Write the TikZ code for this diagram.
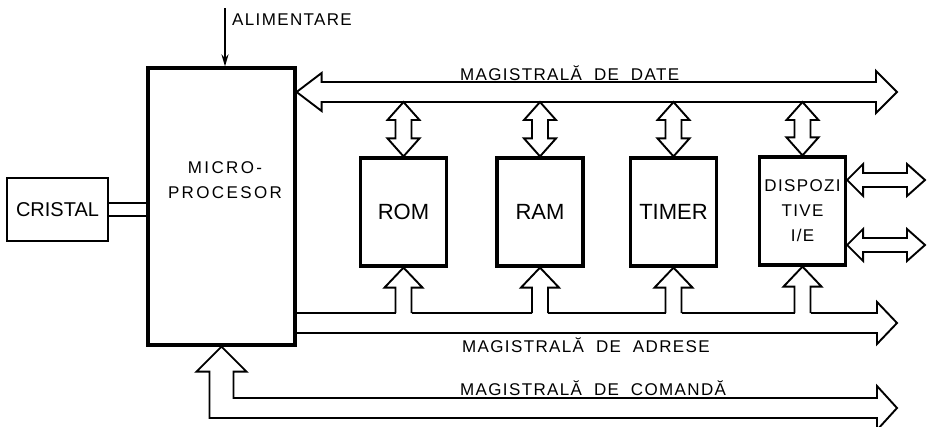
\documentclass[tikz,border=0pt]{standalone}
\usepackage{fontspec}
\setmainfont{Liberation Sans}
\newfontfamily\lblfont[LetterSpace=8]{Liberation Sans}
\newfontfamily\widefont[LetterSpace=14]{Liberation Sans}
\usetikzlibrary{calc,arrows.meta}
\def\vdarrow(#1)(#2){\filldraw[bus,fill=white] (#1) -- ++(16,18) -- ++(-8,0) -- ($(#2)+(8,-18)$) -- ++(8,0) -- (#2) -- ++(-16,-18) -- ++(8,0) -- ($(#1)+(-8,18)$) -- ++(-8,0) -- cycle;}
\def\uparr(#1)(#2){\fill[white] ($(#2)+(-8,1.5)$) rectangle ($(#1)+(8,20)$); \draw[bus] ($(#2)+(-8,0)$) -- ($(#1)+(-8,20)$) -- ++(-11,0) -- (#1) -- ++(19,20) -- ++(-11,0) -- ($(#2)+(8,0)$);}
\def\hdarrow(#1)(#2){\draw[bus] (#1) -- ++(16,-16) -- ++(0,9) -- ($(#2)+(-18,-7)$) -- ++(0,-9) -- (#2) -- ++(-18,16) -- ++(0,-9) -- ($(#1)+(16,7)$) -- ++(0,9) -- cycle;}

\begin{document}
\begin{tikzpicture}[x=1pt,y=-1pt,
	box/.style={draw,line width=3.2pt,inner sep=0pt},
	unit/.style={box,minimum width=86pt,minimum height=108pt,font=\fontsize{22}{22}\selectfont},
	bus/.style={line width=1.9pt,line join=miter},
	lbl/.style={font=\lblfont\fontsize{17}{17}\selectfont,inner sep=0pt}]
				\useasboundingbox (0,0) rectangle (928,426);
				
				% microprocessor and crystal
				\node[box, minimum width=147pt, minimum height=277pt] (mp) at (221.5,206.5) {};
				\node[lbl, align=center, font=\widefont\fontsize{17}{25}\selectfont] (mptext) at (225,180) {MICRO-\\PROCESOR};
				\node[box, line width=2.6pt, minimum width=101pt, minimum height=63pt, font=\fontsize{20}{20}\selectfont] (cristal) at (57.5,209.5) {CRISTAL};
				\coordinate (xa) at ([yshift=6.5pt]cristal.east);
				\coordinate (xb) at ([yshift=-6.5pt]cristal.east);
				\draw[bus] (xa) -- (xa -| mp.west);
				\draw[bus] (xb) -- (xb -| mp.west);
				
				\coordinate (alim) at (225,8);
				\draw[line width=1.9pt,-{Stealth[length=12pt,width=7pt]}] (alim) -- (alim |- mp.north);
				\node[lbl, anchor=base west] (alimtxt) at (232,25) {ALIMENTARE};
				
				% units
				\node[unit] (rom) at (403.5,212) {ROM};
				\node[unit] (ram) at (540,212) {RAM};
				\node[unit] (timer) at (673.5,212) {TIMER};
				\node[unit, align=center, font=\lblfont\fontsize{17}{25}\selectfont] (io) at (802.5,211) {DISPOZI\\TIVE\\I/E};
				
				% data bus
				\coordinate (dmid) at (0,92);
				\coordinate (dbot) at (0,102);
				\draw[bus] (mp.east |- dmid) -- ++(25,-19) -- ++(0,9) -- (876,82) -- ++(0,-11) -- (897,92) -- ++(-21,21) -- ++(0,-11) -- ($(mp.east |- dmid)+(25,10)$) -- ++(0,9) -- cycle;
				\node[lbl, anchor=base west] (datelbl) at (460,80) {MAGISTRALĂ\hspace{12pt}DE\hspace{12pt}DATE};
				\vdarrow(rom.north |- dbot)(rom.north)
				\vdarrow(ram.north |- dbot)(ram.north)
				\vdarrow(timer.north |- dbot)(timer.north)
				\vdarrow(io.north |- dbot)(io.north)
				
				% address bus
				\coordinate (abus) at (0,313);
				\draw[bus] (mp.east |- abus) -- (877,313) -- ++(0,-11) -- (897,323) -- ++(-20,21) -- ++(0,-11) -- ($(mp.east |- abus)+(0,20)$);
				\uparr(rom.south)(rom.south |- abus)
				\uparr(ram.south)(ram.south |- abus)
				\uparr(timer.south)(timer.south |- abus)
				\uparr(io.south)(io.south |- abus)
				\node[lbl, anchor=base west] (adrlbl) at (462,352) {MAGISTRALĂ\hspace{12pt}DE\hspace{12pt}ADRESE};
				
				% command bus
				\draw[bus] (mp.south) -- ++(25,25) -- ++(-13,0) |- (877,398) -- ++(0,-12) -- (897,408) -- ++(-20,22) -- ++(0,-12) -| ($(mp.south)+(-12,25)$) -- ++(-13,0) -- cycle;
				\node[lbl, anchor=base west] (cmdlbl) at (460,395) {MAGISTRALĂ\hspace{12pt}DE\hspace{12pt}COMANDĂ};
				
				% i/o ports
				\coordinate (ioa) at (925,180);
				\coordinate (iob) at (925,245);
				\hdarrow(io.east |- ioa)(ioa)
				\hdarrow(io.east |- iob)(iob)
			\end{tikzpicture}
\end{document}
